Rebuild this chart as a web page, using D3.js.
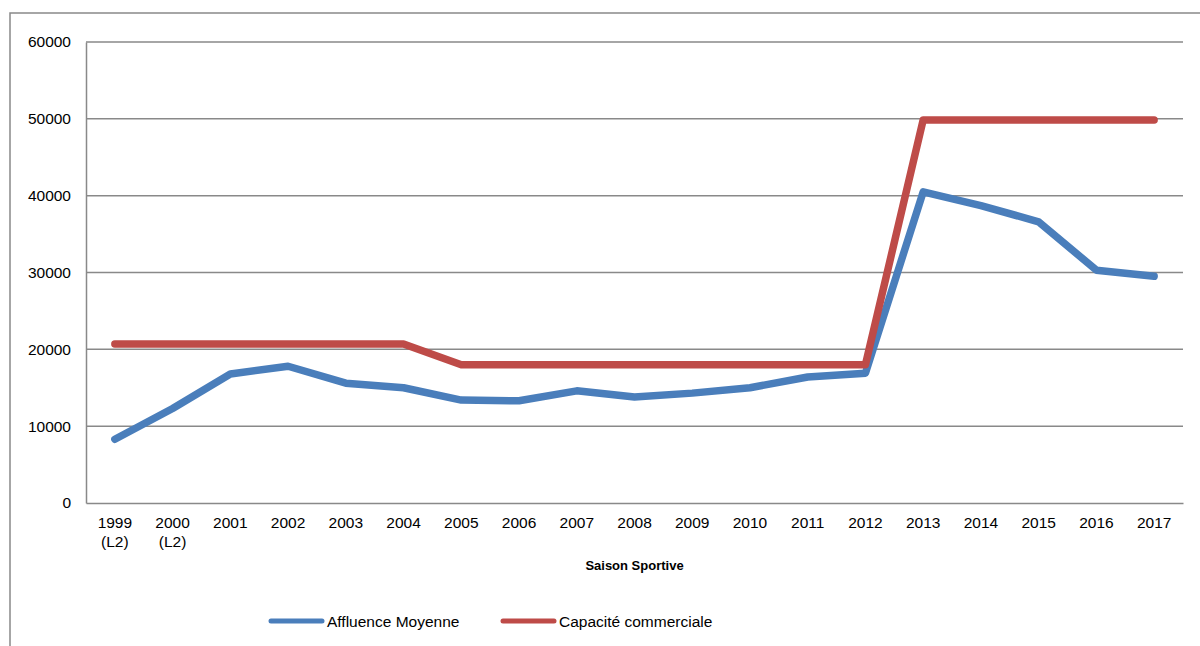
<!DOCTYPE html>
<html>
<head>
<meta charset="utf-8">
<script src="https://cdn.jsdelivr.net/npm/d3@7"></script>
<style>
  body { margin: 0; background: #fff; }
  svg { display: block; font-family: "Liberation Sans", Arial, sans-serif; }
</style>
</head>
<body>
<svg id="chart" width="1200" height="646"></svg>
<script>
const categories = ["1999\n(L2)", "2000\n(L2)", "2001", "2002", "2003", "2004", "2005", "2006", "2007", "2008", "2009", "2010", "2011", "2012", "2013", "2014", "2015", "2016", "2017"];
const affluence = [8300, 12300, 16800, 17800, 15600, 15000, 13400, 13300, 14600, 13800, 14300, 15000, 16400, 16900, 40500, 38700, 36600, 30300, 29500];
const capacite = [20700, 20700, 20700, 20700, 20700, 20700, 18000, 18000, 18000, 18000, 18000, 18000, 18000, 18000, 49850, 49850, 49850, 49850, 49850];
const yTicks = [0, 10000, 20000, 30000, 40000, 50000, 60000];
const seriesNames = ["Affluence Moyenne", "Capacité commerciale"];
const colors = ["#4a7ebb", "#be4b48"];
const xTitle = "Saison Sportive";

const svg = d3.select("#chart");
const M = { left: 86, right: 1183, top: 42, bottom: 503 };
const gray = "#898989";
const FS = 15.5;

// outer frame (extends past right/bottom edges)
svg.append("rect").attr("x", 10).attr("y", 13).attr("width", 1300).attr("height", 800)
  .attr("fill", "none").attr("stroke", gray).attr("stroke-width", 1.5);

const x = d3.scaleBand().domain(categories).range([M.left, M.right]);
const y = d3.scaleLinear().domain([0, 60000]).range([M.bottom, M.top]);

// gridlines
svg.append("g").selectAll("line").data(yTicks.filter(d => d > 0)).join("line")
  .attr("x1", M.left).attr("x2", M.right)
  .attr("y1", d => y(d)).attr("y2", d => y(d))
  .attr("stroke", gray).attr("stroke-width", 1.5);

// y axis
const yAxis = d3.axisLeft(y).tickValues(yTicks).tickSize(0).tickPadding(15).tickFormat(d3.format("d"));
const gy = svg.append("g").attr("transform", `translate(${M.left},0)`).call(yAxis);
gy.select(".domain").attr("stroke", gray).attr("stroke-width", 1.5);
gy.selectAll("text").attr("font-size", FS).attr("fill", "#000")
  .attr("font-family", "'Liberation Sans', Arial, sans-serif");

// x axis
const xAxis = d3.axisBottom(x).tickSize(0).tickPadding(12).tickFormat("");
const gx = svg.append("g").attr("transform", `translate(0,${M.bottom})`).call(xAxis);
gx.select(".domain").attr("stroke", gray).attr("stroke-width", 1.5);
gx.selectAll(".tick").each(function(d) {
  const lines = d.split("\n");
  const t = d3.select(this).append("text").attr("fill", "#000").attr("font-size", FS)
    .attr("text-anchor", "middle")
    .attr("font-family", "'Liberation Sans', Arial, sans-serif");
  lines.forEach((l, i) => {
    t.append("tspan").attr("x", 0).attr("y", 25 + i * 19).text(l);
  });
});

// x title
svg.append("text").attr("x", (M.left + M.right) / 2).attr("y", 570)
  .attr("text-anchor", "middle").attr("font-size", 13).attr("font-weight", "bold")
  .text(xTitle);

// lines
const line = d3.line().x((d, i) => x(categories[i]) + x.bandwidth() / 2).y(d => y(d));
[affluence, capacite].forEach((s, k) => {
  svg.append("path").datum(s).attr("d", line).attr("fill", "none")
    .attr("stroke", colors[k]).attr("stroke-width", 7.5)
    .attr("stroke-linejoin", "round").attr("stroke-linecap", "round");
});

// legend
const legX = [271, 503];
seriesNames.forEach((n, k) => {
  svg.append("line").attr("x1", legX[k]).attr("x2", legX[k] + 51)
    .attr("y1", 621).attr("y2", 621).attr("stroke", colors[k]).attr("stroke-width", 5)
    .attr("stroke-linecap", "round");
  svg.append("text").attr("x", legX[k] + 56).attr("y", 626.5).attr("font-size", FS)
    .attr("fill", "#000").text(n);
});
</script>
</body>
</html>
